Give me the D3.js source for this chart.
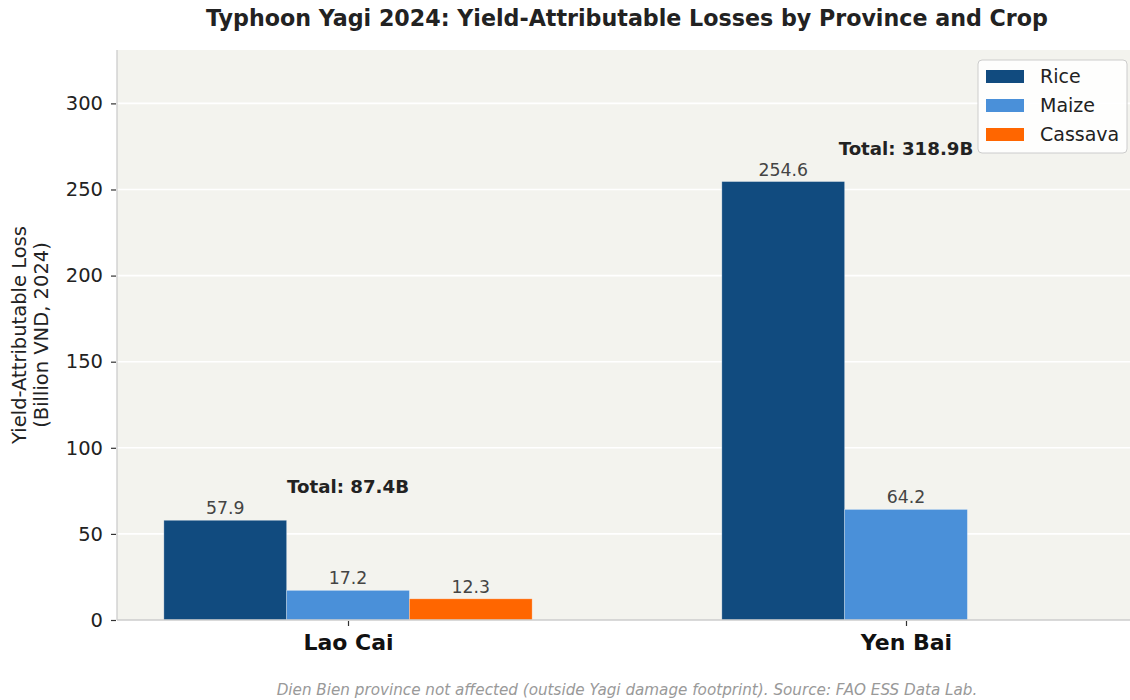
<!DOCTYPE html>
<html>
<head>
<meta charset="utf-8">
<script src="https://cdn.jsdelivr.net/npm/d3@7"></script>
<style>
  html, body { margin: 0; padding: 0; background: #ffffff; }
  svg { display: block; font-family: "DejaVu Sans", sans-serif; }
</style>
</head>
<body>
<svg id="chart" width="1130" height="700"></svg>
<script>
// Yield-attributable losses (billion VND, 2024) per province and crop
const provinces = ["Lao Cai", "Yen Bai"];
const crops = ["Rice", "Maize", "Cassava"];
const rice = [57.9, 254.6];
const maize = [17.2, 64.2];
const cassava = [12.3, 0];
const totals = [87.4, 318.9];
const yTicks = [0, 50, 100, 150, 200, 250, 300];
const cropColors = ["#114b7f", "#4a90d9", "#ff6600"];

const seriesByCrop = [rice, maize, cassava];

const svg = d3.select("#chart");
const plot = { left: 117, right: 1137, top: 50, bottom: 620 };

const x = d3.scalePoint()
  .domain(provinces)
  .range([plot.left, plot.right])
  .padding(0.414);

const barW = x.step() * 0.22;
const xInner = d3.scaleBand()
  .domain(crops)
  .range([-1.5 * barW, 1.5 * barW])
  .padding(0);

const y = d3.scaleLinear()
  .domain([0, 331])
  .range([plot.bottom, plot.top]);

// plot background
svg.append("rect")
  .attr("x", plot.left).attr("y", plot.top)
  .attr("width", plot.right - plot.left)
  .attr("height", plot.bottom - plot.top)
  .attr("fill", "#f3f3ee");

// horizontal grid
svg.append("g")
  .selectAll("line")
  .data(yTicks.filter(d => d > 0))
  .join("line")
  .attr("x1", plot.left).attr("x2", plot.right)
  .attr("y1", d => y(d)).attr("y2", d => y(d))
  .attr("stroke", "#ffffff")
  .attr("stroke-width", 1.6);

// bars
const barData = [];
provinces.forEach((p, i) => {
  crops.forEach((c, j) => {
    const v = seriesByCrop[j][i];
    if (v > 0) barData.push({ province: p, crop: c, value: v, color: cropColors[j] });
  });
});

svg.append("g")
  .selectAll("rect")
  .data(barData)
  .join("rect")
  .attr("x", d => x(d.province) + xInner(d.crop))
  .attr("y", d => y(d.value))
  .attr("width", xInner.bandwidth())
  .attr("height", d => y(0) - y(d.value))
  .attr("fill", d => d.color)
  .attr("stroke", "rgba(255,255,255,0.35)")
  .attr("stroke-width", 0.8);

// value labels
svg.append("g")
  .selectAll("text")
  .data(barData)
  .join("text")
  .attr("x", d => x(d.province) + xInner(d.crop) + xInner.bandwidth() / 2)
  .attr("y", d => y(d.value) - 6)
  .attr("text-anchor", "middle")
  .attr("font-size", 17.3)
  .attr("fill", "#444444")
  .text(d => d.value.toFixed(1));

// province totals
svg.append("g")
  .selectAll("text")
  .data(provinces)
  .join("text")
  .attr("x", d => x(d))
  .attr("y", (d, i) => y(d3.max(seriesByCrop, s => s[i])) - 27)
  .attr("text-anchor", "middle")
  .attr("font-size", 18.2)
  .attr("font-weight", "bold")
  .attr("fill", "#222222")
  .text((d, i) => `Total: ${totals[i].toFixed(1)}B`);

// spines
svg.append("line")
  .attr("x1", plot.left).attr("x2", plot.left)
  .attr("y1", plot.top).attr("y2", plot.bottom)
  .attr("stroke", "#cccccc").attr("stroke-width", 1.3);
svg.append("line")
  .attr("x1", plot.left).attr("x2", plot.right)
  .attr("y1", plot.bottom).attr("y2", plot.bottom)
  .attr("stroke", "#cccccc").attr("stroke-width", 1.3);

// y axis
const yAxis = svg.append("g")
  .attr("transform", `translate(${plot.left - 1},0)`)
  .call(d3.axisLeft(y).tickValues(yTicks).tickSize(5).tickPadding(8));
yAxis.select(".domain").remove();
yAxis.selectAll(".tick line").attr("stroke", "#333333").attr("stroke-width", 1.2);
yAxis.selectAll(".tick text")
  .attr("font-family", "DejaVu Sans, sans-serif")
  .attr("font-size", 19.5).attr("fill", "#222222");

// x axis
const xAxis = svg.append("g")
  .attr("transform", `translate(0,${plot.bottom + 1})`)
  .call(d3.axisBottom(x).tickSize(5).tickPadding(8));
xAxis.select(".domain").remove();
xAxis.selectAll(".tick line").attr("stroke", "#333333").attr("stroke-width", 1.2);
xAxis.selectAll(".tick text")
  .attr("font-family", "DejaVu Sans, sans-serif")
  .attr("font-size", 22).attr("font-weight", "bold").attr("fill", "#111111");

// y axis title
const yTitle = svg.append("text")
  .attr("transform", `translate(27,${(plot.top + plot.bottom) / 2}) rotate(-90)`)
  .attr("text-anchor", "middle")
  .attr("font-size", 19.5)
  .attr("fill", "#222222");
yTitle.append("tspan").attr("x", 0).attr("dy", -1).text("Yield-Attributable Loss");
yTitle.append("tspan").attr("x", 0).attr("dy", 22).text("(Billion VND, 2024)");

// chart title
svg.append("text")
  .attr("x", (plot.left + plot.right) / 2)
  .attr("y", 26)
  .attr("text-anchor", "middle")
  .attr("font-size", 22.2)
  .attr("font-weight", "bold")
  .attr("fill", "#222222")
  .text("Typhoon Yagi 2024: Yield-Attributable Losses by Province and Crop");

// legend
const legend = svg.append("g").attr("transform", "translate(978,60)");
legend.append("rect")
  .attr("width", 149).attr("height", 93)
  .attr("rx", 4)
  .attr("fill", "rgba(255,255,255,0.85)")
  .attr("stroke", "#cccccc");
crops.forEach((c, i) => {
  const row = legend.append("g").attr("transform", `translate(8,${10 + i * 29})`);
  row.append("rect")
    .attr("width", 38).attr("height", 13)
    .attr("fill", cropColors[i]);
  row.append("text")
    .attr("x", 54).attr("y", 13)
    .attr("font-size", 19)
    .attr("fill", "#222222")
    .text(c);
});

// footnote
svg.append("text")
  .attr("x", (plot.left + plot.right) / 2)
  .attr("y", 695)
  .attr("text-anchor", "middle")
  .attr("font-size", 15.2)
  .attr("font-style", "italic")
  .attr("fill", "#999999")
  .text("Dien Bien province not affected (outside Yagi damage footprint). Source: FAO ESS Data Lab.");
</script>
</body>
</html>
